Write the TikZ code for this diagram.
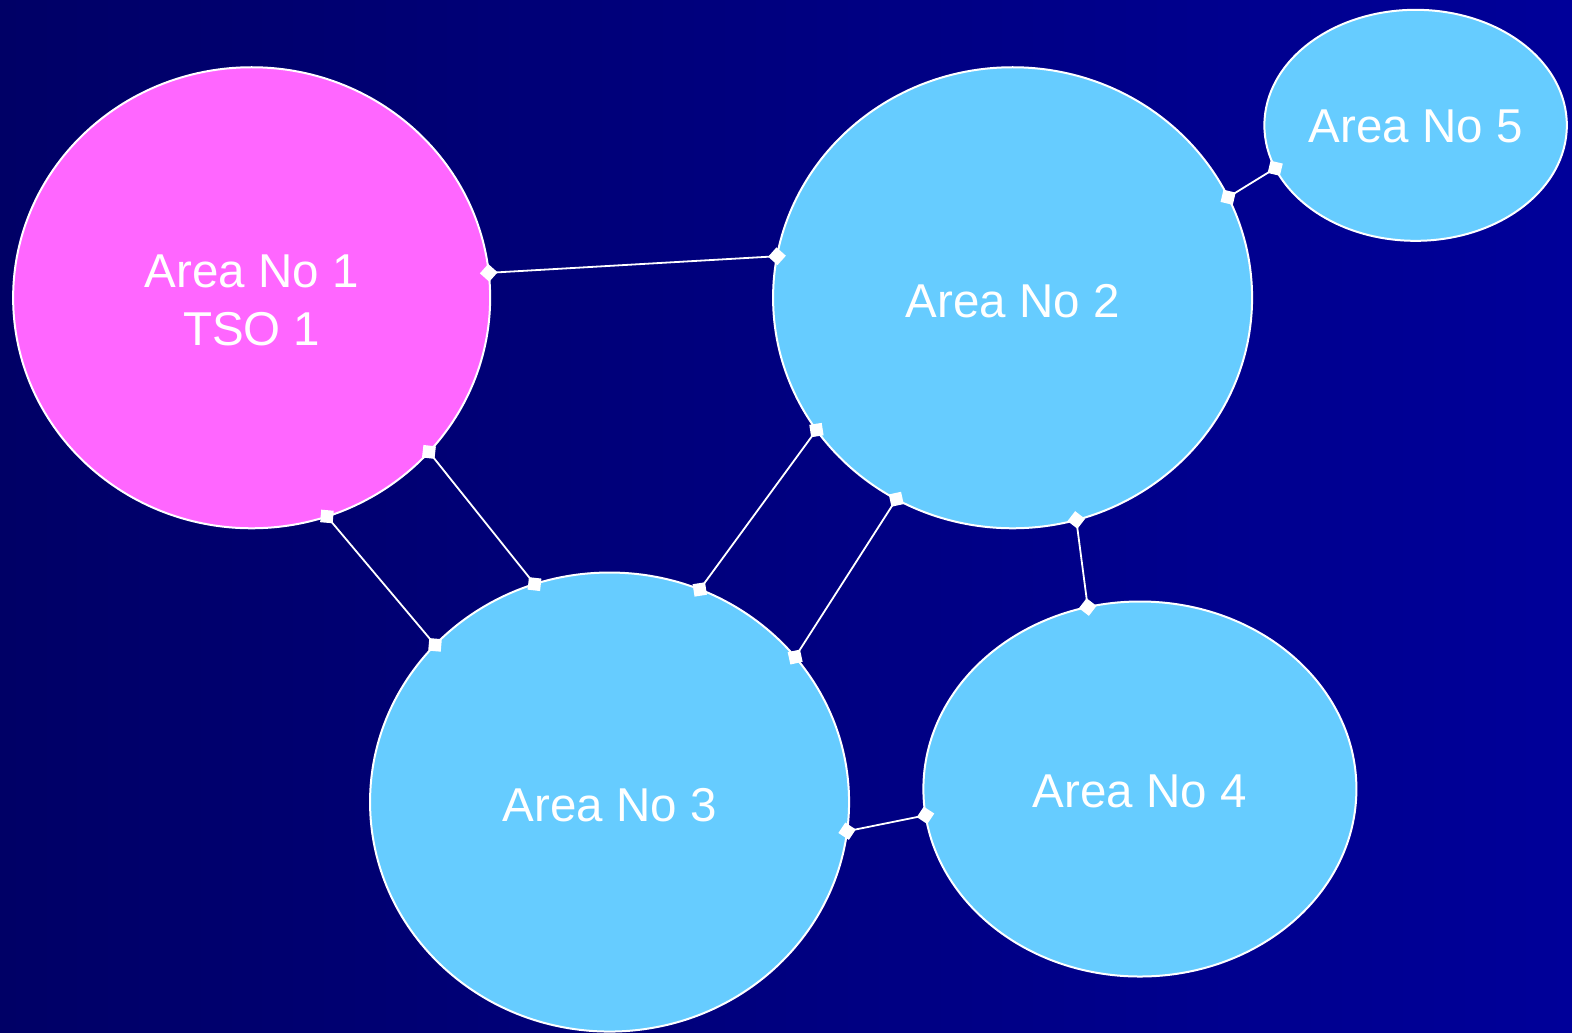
\documentclass[tikz,border=0pt]{standalone}
\usepackage{fontspec}
\setmainfont{Liberation Sans}
\usetikzlibrary{shapes.geometric}
\definecolor{bgL}{RGB}{0,0,102}
\definecolor{bgR}{RGB}{0,0,153}
\definecolor{areablue}{RGB}{102,204,255}
\definecolor{areapink}{RGB}{255,102,255}
\tikzset{
  area/.style={ellipse, draw=white, line width=2pt, inner sep=0pt, outer sep=0pt,
    text=white, font=\fontsize{47.5}{58}\selectfont},
  link/.style={draw=white, line width=1.8pt},
  marker/.style={diamond, aspect=1, fill=white, draw=none, inner sep=0pt,
    minimum width=18.5pt, minimum height=18.5pt, sloped},
}
\newcommand{\lbl}[2]{\smash{\raisebox{#1}{\begin{tabular}[t]{@{}c@{}}#2\end{tabular}}}}
\newcommand{\linkit}[2]{\path[link] (#1) -- (#2) node[marker, pos=0] {} node[marker, pos=1] {};}
\begin{document}
\begin{tikzpicture}[x=1.0025pt,y=-1.0025pt]
\fill[left color=bgL, right color=bgR] (0,0) rectangle (1568,1029.5);
\useasboundingbox (0,0) rectangle (1568,1029.5);
\node[area, fill=areapink, minimum width=477pt, minimum height=461pt] (a1) at (251,297) {\lbl{10pt}{Area No 1\\TSO 1}};
\node[area, fill=areablue, minimum width=479pt, minimum height=461pt] (a2) at (1010,297) {\lbl{-19.5pt}{Area No 2}};
\node[area, fill=areablue, minimum width=479pt, minimum height=459pt] (a3) at (608,800) {\lbl{-19.5pt}{Area No 3}};
\node[area, fill=areablue, minimum width=433pt, minimum height=375pt] (a4) at (1137,787) {\lbl{-18.5pt}{Area No 4}};
\node[area, fill=areablue, minimum width=299pt, minimum height=231pt] (a5) at (1412,125) {\lbl{-17pt}{Area No 5}};
\linkit{a1.6.5}{a2.170}
\linkit{a1.-41.6}{a3.109}
\linkit{a1.-71.1}{a3.138.6}
\linkit{a3.67.4}{a2.-146}
\linkit{a3.38.4}{a2.-120.6}
\linkit{a2.-74.4}{a4.106.6}
\linkit{a3.-7.2}{a4.187.4}
\linkit{a2.25.7}{a5.197.9}
\end{tikzpicture}
\end{document}
